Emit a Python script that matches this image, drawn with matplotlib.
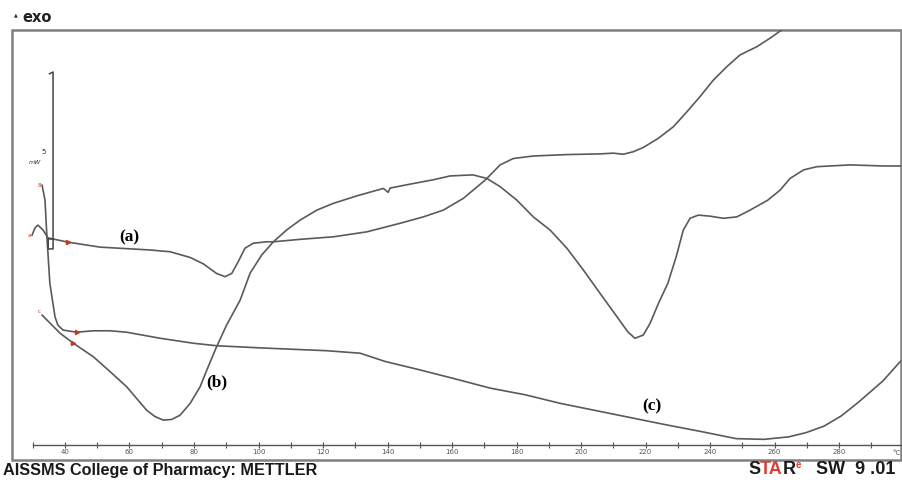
import numpy as np
import matplotlib.pyplot as plt
from matplotlib.patches import Rectangle


# DSC thermograms: temperature (°C) vs heat flow (mW, arbitrary offset)
t_a  = [29.8, 30.7, 31.6, 33.2, 34.7, 40.9, 50.9, 66.4, 72.6, 78.8, 82.9, 87.0, 89.6, 91.7,
        93.7, 95.8, 98.4, 102.5, 104.6, 113.0, 123.2, 133.6, 143.9, 151.1, 157.3, 163.5,
        169.7, 170.8, 174.9, 179.0, 185.2, 195.6, 205.9, 210.0, 213.1, 216.2, 219.3, 224.0,
        228.6, 232.8, 236.9, 241.0, 245.2, 249.3, 254.5, 258.6, 262.2, 264.8]
hf_a = [6.32, 6.52, 6.60, 6.46, 6.24, 6.12, 5.98, 5.90, 5.85, 5.69, 5.51, 5.24, 5.15, 5.24,
        5.57, 5.95, 6.09, 6.13, 6.13, 6.20, 6.27, 6.41, 6.65, 6.83, 7.02, 7.35,
        7.82, 7.91, 8.29, 8.47, 8.54, 8.58, 8.60, 8.62, 8.59, 8.66, 8.78, 9.04,
        9.36, 9.78, 10.21, 10.67, 11.05, 11.38, 11.61, 11.85, 12.08, 12.36]

t_b  = [32.9, 35.3, 38.5, 42.6, 48.8, 54.0, 59.1, 62.2, 65.3, 67.9, 70.5, 73.1, 75.7, 78.8,
        81.9, 84.4, 87.0, 90.1, 94.3, 97.4, 101.0, 104.6, 108.7, 112.9, 118.1, 123.2, 130.5,
        138.7, 139.5, 140.2, 140.8, 147.0, 154.1, 159.4, 166.5, 170.8, 174.9, 180.1, 185.2,
        190.4, 195.6, 200.7, 205.9, 211.1, 214.5, 216.7, 219.3, 221.4, 224.0, 226.9, 229.5,
        231.7, 233.8, 236.4, 240.0, 244.1, 248.3, 252.4, 257.9, 261.7, 264.8, 269.0, 273.1,
        283.4, 293.7, 298.9]
hf_b = [4.07, 3.85, 3.56, 3.28, 2.90, 2.48, 2.06, 1.73, 1.40, 1.22, 1.12, 1.14, 1.26, 1.59,
        2.06, 2.62, 3.18, 3.79, 4.49, 5.25, 5.76, 6.13, 6.46, 6.74, 7.02, 7.21, 7.42,
        7.63, 7.57, 7.52, 7.64, 7.75, 7.87, 7.98, 8.01, 7.91, 7.68, 7.30, 6.83,
        6.46, 5.95, 5.34, 4.68, 4.03, 3.60, 3.42, 3.51, 3.84, 4.40, 4.96, 5.71,
        6.46, 6.79, 6.88, 6.85, 6.79, 6.83, 7.02, 7.30, 7.58, 7.91, 8.15, 8.24,
        8.29, 8.26, 8.26]

t_c  = [32.9, 33.8, 34.4, 35.3, 36.9, 37.8, 39.4, 43.6, 48.8, 54.0, 59.1, 69.5, 79.8, 87.0,
        100.5, 110.8, 121.2, 131.5, 139.2, 150.1, 160.9, 171.8, 182.8, 193.6, 204.5, 215.4,
        226.3, 237.2, 248.1, 256.7, 264.4, 269.8, 275.3, 280.7, 286.1, 293.7, 299.0]
hf_c = [7.72, 7.30, 6.26, 4.97, 4.02, 3.79, 3.65, 3.59, 3.63, 3.63, 3.59, 3.42, 3.28, 3.21,
        3.15, 3.11, 3.07, 3.00, 2.77, 2.53, 2.28, 2.02, 1.83, 1.59, 1.39, 1.19,
        0.99, 0.80, 0.60, 0.58, 0.65, 0.77, 0.95, 1.24, 1.63, 2.23, 2.77]

# 5 mW scale bar
bar_t  = [35.2, 36.3, 36.3, 34.8, 34.8, 36.3]
bar_hf = [10.85, 10.90, 5.93, 5.93, 6.21, 6.21]

xticks_major = np.arange(40, 281, 20)
xticks_minor = np.arange(30, 291, 10)

fig = plt.figure(figsize=(9.03, 4.8), dpi=100)
W, H = 903.0, 480.0
ax = fig.add_axes([12 / W, 20 / H, 889 / W, 430 / H])
ax.set_xlim(23.57, 299.2)
ax.set_ylim(0, 12.08)

lc = '#5a5a5a'
ax.plot(t_a, hf_a, color=lc, lw=1.2)
ax.plot(t_b, hf_b, color=lc, lw=1.2)
ax.plot(t_c, hf_c, color=lc, lw=1.2)
ax.plot(bar_t, bar_hf, color='#444444', lw=1.1)

# red start markers
ax.plot(t_a[5], hf_a[5], marker='>', color='#c0392b', ms=3)
ax.plot(t_b[3], hf_b[3], marker='>', color='#c0392b', ms=3)
ax.plot(t_c[7], hf_c[7], marker='>', color='#c0392b', ms=3)
ax.text(t_a[0] - 0.4, hf_a[0], 'a', color='#c0392b', fontsize=4, ha='right', va='center')
ax.text(t_b[0] - 0.3, hf_b[0] + 0.1, 'c', color='#c0392b', fontsize=4, ha='right', va='center')
ax.text(t_c[0] - 0.3, hf_c[0], '8', color='#c0392b', fontsize=4, ha='right', va='center')

ax.text(33.5, 8.65, '5', fontsize=5, ha='center', va='center', color='#333333')
ax.text(30.8, 8.35, 'mW', fontsize=4.5, style='italic', ha='center', va='center', color='#333333')

serif = ['Liberation Serif', 'DejaVu Serif']
ax.text(59.8, 6.26, '(a)', family=serif, fontweight='bold', fontsize=12.5, ha='center', va='center')
ax.text(87.1, 2.19, '(b)', family=serif, fontweight='bold', fontsize=12.5, ha='center', va='center')
ax.text(222.0, 1.52, '(c)', family=serif, fontweight='bold', fontsize=12.5, ha='center', va='center')

# frame and inner temperature axis
for s in ['left', 'right', 'top']:
    ax.spines[s].set_visible(False)
ax.add_patch(Rectangle((0, 0), 1, 1, transform=ax.transAxes, fill=False,
                       edgecolor='#808080', lw=1.8, clip_on=False))
ax.spines['bottom'].set_position(('axes', 0.035))
ax.spines['bottom'].set_bounds(30, 299.2)
ax.spines['bottom'].set_color('#555555')
ax.spines['bottom'].set_linewidth(1.0)
ax.set_yticks([])
ax.set_xticks(xticks_major)
ax.set_xticks(xticks_minor, minor=True)
ax.tick_params(axis='x', which='both', direction='inout', length=4, width=0.8,
               colors='#555555', labelsize=5, pad=1)
ax.text(297.8, 0.2, '°C', fontsize=5, color='#555555', ha='center', va='center')

# header / footer
fig.text(14 / W, 1 - 15 / H, '▲', fontsize=3.5, ha='left', va='center', color='#222222')
fig.text(22 / W, 1 - 17 / H, 'exo', fontsize=10.5, fontweight='bold', ha='left', va='center',
         family='DejaVu Sans', color='#222222')
fig.text(3 / W, 1 - 470 / H, 'AISSMS College of Pharmacy: METTLER', fontsize=11.7,
         fontweight='bold', family='Liberation Sans', ha='left', va='center', color='#1a1a1a')

renderer = fig.canvas.get_renderer()
x0 = 748 / W
parts = [('S', '#1a1a1a', 13, 0), ('TA', '#e03c31', 13, 0), ('R', '#1a1a1a', 13, 0),
         ('e', '#e03c31', 7, 5), ('   SW  9 .01', '#1a1a1a', 13, 0)]
for txt, col, fs, dy in parts:
    t = fig.text(x0, (H - 470 + dy) / H, txt, fontsize=fs, fontweight='bold',
                 family='Liberation Sans', color=col, ha='left', va='center')
    bb = t.get_window_extent(renderer=renderer)
    x0 = bb.x1 / fig.bbox.width

fig.savefig('out.png', dpi=100)
